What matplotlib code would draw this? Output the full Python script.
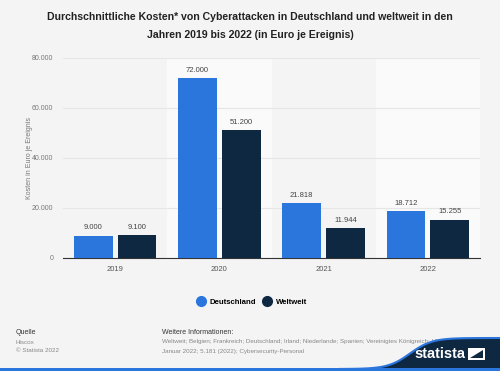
import matplotlib.pyplot as plt
import matplotlib.patches as mpatches
import numpy as np

plt.rcParams['font.family'] = ['Liberation Sans', 'DejaVu Sans']

years = ["2019", "2020", "2021", "2022"]
deutschland = [9000, 72000, 21818, 18712]
weltweit = [9100, 51200, 11944, 15255]
series_names = ["Deutschland", "Weltweit"]
yticks = [0, 20000, 40000, 60000, 80000]

blue = "#2a76dd"
navy = "#0f2841"
bg = "#f4f4f4"


def fmt(v):
    return f"{v:,}".replace(",", ".")


fig = plt.figure(figsize=(5, 3.71), dpi=100, facecolor=bg)
ax = fig.add_axes([63 / 500, 1 - 258 / 371, 417 / 500, 200 / 371])
ax.set_facecolor(bg)

x = np.arange(len(years))
w = 0.37
# alternating background bands
for i in x:
    if i % 2 == 1:
        ax.axvspan(i - 0.5, i + 0.5, color="#fafafa", zorder=0, lw=0)

ax.yaxis.grid(True, color="#e6e6e6", lw=0.8, zorder=1)
b1 = ax.bar(x - w / 2 - 0.025, deutschland, w, color=blue, zorder=3)
b2 = ax.bar(x + w / 2 + 0.025, weltweit, w, color=navy, zorder=3)

for bars, vals in [(b1, deutschland), (b2, weltweit)]:
    for b, v in zip(bars, vals):
        ax.text(b.get_x() + b.get_width() / 2, v + 1800, fmt(v), ha="center",
                va="bottom", fontsize=5.5, color="#444444")

ax.set_xlim(-0.5, 3.5)
ax.set_ylim(0, 80000)
ax.set_yticks(yticks)
ax.set_yticklabels([fmt(t) for t in yticks], fontsize=5, color="#777777")
ax.set_xticks(x)
ax.set_xticklabels(years, fontsize=5.5, color="#555555")
ax.tick_params(length=0, pad=6)
ax.tick_params(axis="y", pad=7)
for s in ["top", "right", "left"]:
    ax.spines[s].set_visible(False)
ax.spines["bottom"].set_color("#333333")
ax.spines["bottom"].set_linewidth(0.8)
ax.set_ylabel("Kosten in Euro je Ereignis", fontsize=5, color="#777777", labelpad=-1)

fig.text(0.5, 1 - 17 / 371, "Durchschnittliche Kosten* von Cyberattacken in Deutschland und weltweit in den",
         ha="center", va="center", fontsize=7.6, fontweight="bold", color="#222222")
fig.text(0.5, 1 - 35 / 371, "Jahren 2019 bis 2022 (in Euro je Ereignis)",
         ha="center", va="center", fontsize=7.6, fontweight="bold", color="#222222")

# legend
handles = [plt.Line2D([], [], marker="o", ls="", color=c, markersize=7) for c in [blue, navy]]
fig.legend(handles, series_names, loc="center", bbox_to_anchor=(0.5, 1 - 302 / 371), ncol=2,
           frameon=False, prop={"size": 5.6, "weight": "bold"}, handletextpad=0.2, columnspacing=0.3)

# footer
fig.text(16 / 500, 1 - 333 / 371, "Quelle", fontsize=5, color="#333333", va="center")
fig.text(16 / 500, 1 - 342 / 371, "Hiscox", fontsize=4.5, color="#888888", va="center")
fig.text(16 / 500, 1 - 351 / 371, "© Statista 2022", fontsize=4.5, color="#888888", va="center")
fig.text(162 / 500, 1 - 333 / 371, "Weitere Informationen:", fontsize=5, color="#333333", va="center")
fig.text(162 / 500, 1 - 342 / 371, "Weltweit; Belgien; Frankreich; Deutschland; Irland; Niederlande; Spanien; Vereinigtes Königreich; USA;",
         fontsize=4.5, color="#888888", va="center")
fig.text(162 / 500, 1 - 351 / 371, "Januar 2022; 5.181 (2022); Cybersecurity-Personal", fontsize=4.5, color="#888888", va="center")

# statista logo wave
lax = fig.add_axes([0, 0, 1, 1], zorder=5)
lax.set_xlim(0, 500)
lax.set_ylim(371, 0)
lax.axis("off")
xs = np.linspace(340, 500, 120)
top = 369 - 31 / (1 + np.exp(-(xs - 410) / 11))
verts = list(zip(xs, top)) + [(500, 371), (340, 371)]
lax.add_patch(mpatches.Polygon(verts, closed=True, color=navy, lw=0))
lax.plot(xs, top, color=blue, lw=1.5)
lax.add_patch(mpatches.Rectangle((0, 368), 500, 3, color=blue, lw=0))
lax.text(465, 361, "statista", fontsize=10.5, fontweight="bold", color="white", ha="right", va="bottom")
lax.add_patch(mpatches.Polygon([(468, 348), (485, 348), (485, 360), (468, 360)], closed=True, color="white", lw=0))
lax.add_patch(mpatches.Polygon([(470, 358), (483, 350), (483, 358)], closed=True, color=navy, lw=0))

fig.savefig("out.png", dpi=100, facecolor=bg)
